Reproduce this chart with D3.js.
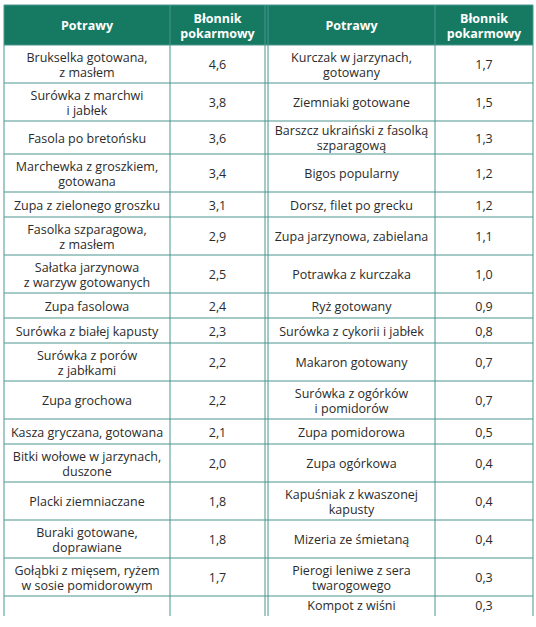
<!DOCTYPE html>
<html><head><meta charset="utf-8">
<script src="https://cdn.jsdelivr.net/npm/d3@7"></script>
<style>body{margin:0;background:#fff}</style>
</head><body><div id="chart"></div>
<script>
const headers = ["Potrawy", "Błonnik\npokarmowy"]
const leftNames = ["Brukselka gotowana,\nz masłem","Surówka z marchwi\ni jabłek","Fasola po bretońsku","Marchewka z groszkiem,\ngotowana","Zupa z zielonego groszku","Fasolka szparagowa,\nz masłem","Sałatka jarzynowa\nz warzyw gotowanych","Zupa fasolowa","Surówka z białej kapusty","Surówka z porów\nz jabłkami","Zupa grochowa","Kasza gryczana, gotowana","Bitki wołowe w jarzynach,\nduszone","Placki ziemniaczane","Buraki gotowane,\ndoprawiane","Gołąbki z mięsem, ryżem\nw sosie pomidorowym",""]
const leftValues = ["4,6","3,8","3,6","3,4","3,1","2,9","2,5","2,4","2,3","2,2","2,2","2,1","2,0","1,8","1,8","1,7",""]
const rightNames = ["Kurczak w jarzynach,\ngotowany","Ziemniaki gotowane","Barszcz ukraiński z fasolką\nszparagową","Bigos popularny","Dorsz, filet po grecku","Zupa jarzynowa, zabielana","Potrawka z kurczaka","Ryż gotowany","Surówka z cykorii i jabłek","Makaron gotowany","Surówka z ogórków\ni pomidorów","Zupa pomidorowa","Zupa ogórkowa","Kapuśniak z kwaszonej\nkapusty","Mizeria ze śmietaną","Pierogi leniwe z sera\ntwarogowego","Kompot z wiśni"]
const rightValues = ["1,7","1,5","1,3","1,2","1,2","1,1","1,0","0,9","0,8","0,7","0,7","0,5","0,4","0,4","0,4","0,3","0,3"]

const W = 536, H = 627
const green = "#167a62", line = "#4a9590", txt = "#2b2b2b"
const svg = d3.select("#chart").append("svg").attr("width", W).attr("height", H)
  .style("font-family", "'Open Sans', sans-serif")

// column edges
const cols = [
  {x0: 4, x1: 170}, {x0: 170, x1: 265},
  {x0: 268, x1: 435}, {x0: 435, x1: 533}
]
// row heights from line counts
const nLines = s => s === "" ? 1 : s.split("\n").length
const heights = leftNames.map((d, i) => {
  if (i === leftNames.length - 1) return 18
  const n = Math.max(nLines(d), nLines(rightNames[i]))
  return i === 2 ? 33 : (n > 1 ? 38 : 25)
})
const topY = 5, headH = 40
const rowY = [0].concat(Array.from(d3.cumsum(heights))).map(v => v + topY + headH)
const bottomY = rowY[rowY.length - 1] + 2

// header
svg.append("rect").attr("x", 4).attr("y", topY).attr("width", 529).attr("height", headH).attr("fill", green)

function multiText(g, s, cx, cy, opts) {
  const parts = s.split("\n")
  const lh = opts.lh
  const t = g.append("text").attr("text-anchor", "middle").attr("x", cx)
    .attr("font-size", opts.size).attr("font-weight", opts.weight || 400).attr("fill", opts.fill)
  parts.forEach((p, k) => {
    t.append("tspan").attr("x", cx).attr("y", cy + (k - (parts.length - 1) / 2) * lh + opts.size * 0.35).text(p)
  })
}

cols.forEach((c, i) => multiText(svg, headers[i % 2], (c.x0 + c.x1) / 2, topY + headH / 2 + 1,
  {size: 12.5, weight: 700, fill: "#fff", lh: 15}))

const rows = leftNames.map((d, i) => ({cells: [d, leftValues[i], rightNames[i], rightValues[i]], y0: rowY[i], y1: rowY[i + 1]}))
const g = svg.append("g")
rows.forEach(r => {
  r.cells.forEach((s, j) => {
    if (s === "") return
    multiText(g, s, (cols[j].x0 + cols[j].x1) / 2, (r.y0 + r.y1) / 2 + 1, {size: 12.5, fill: txt, lh: 15})
  })
})

// horizontal lines
svg.selectAll("line.h").data(rowY.slice(0, -1)).enter().append("line")
  .attr("x1", 4).attr("x2", 533).attr("y1", d => d).attr("y2", d => d)
  .attr("stroke", line).attr("stroke-width", 1)
svg.append("line").attr("x1", 4).attr("x2", 533).attr("y1", topY).attr("y2", topY).attr("stroke", line)

// vertical lines
const vx = [4, 170, 265, 268, 435, 533]
svg.selectAll("line.v").data(vx).enter().append("line")
  .attr("x1", d => d).attr("x2", d => d).attr("y1", topY).attr("y2", bottomY)
  .attr("stroke", line).attr("stroke-width", 1)
</script></body></html>
